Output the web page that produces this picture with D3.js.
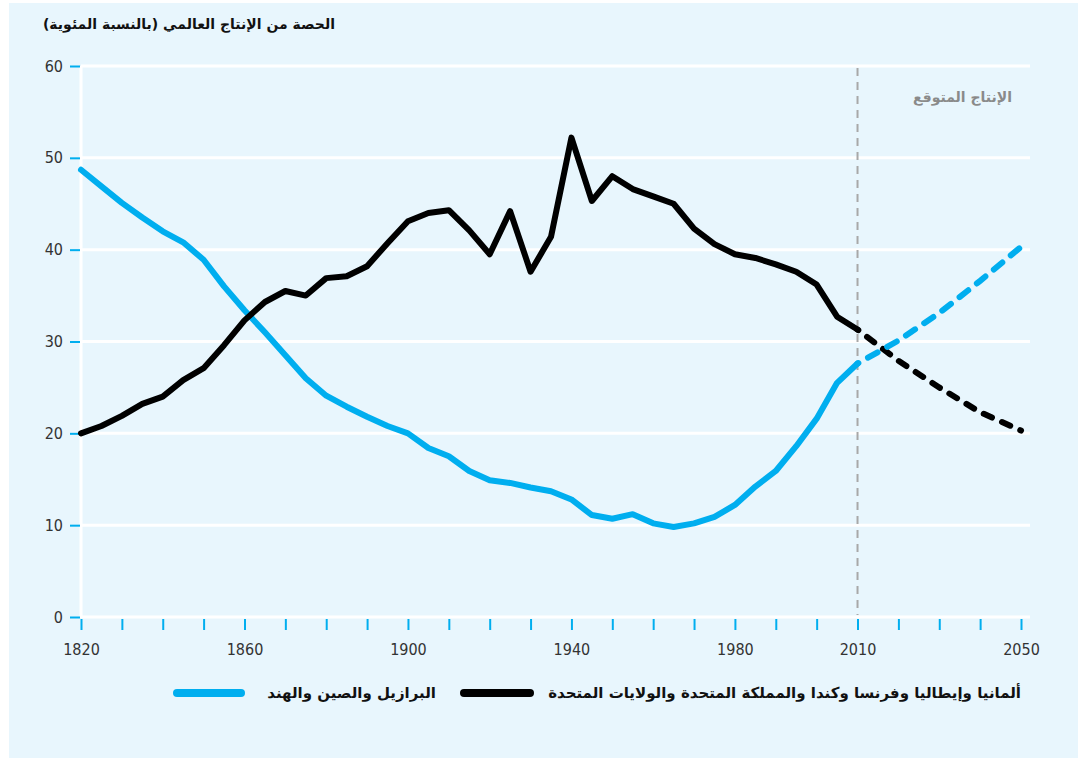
<!DOCTYPE html>
<html>
<head>
<meta charset="utf-8">
<script src="https://cdn.jsdelivr.net/npm/d3@7"></script>
<style>
  body { margin: 0; background: #fff; }
  svg { display: block; }
  .tick-label { font-family: "Liberation Sans Narrow", "DejaVu Sans Condensed", "Roboto Condensed", "Roboto", sans-serif; font-size: 16px; fill: #333; }
  .ar { font-family: "DejaVu Sans", sans-serif; direction: rtl; unicode-bidi: embed; }
</style>
</head>
<body>
<div id="chart"></div>
<script>
// years of the historical series (every 5 years)
var years = [1820, 1825, 1830, 1835, 1840, 1845, 1850, 1855, 1860, 1865, 1870, 1875, 1880,
             1885, 1890, 1895, 1900, 1905, 1910, 1915, 1920, 1925, 1930, 1935, 1940, 1945,
             1950, 1955, 1960, 1965, 1970, 1975, 1980, 1985, 1990, 1995, 2000, 2005, 2010];

// Brazil, China, India (blue)
var bci = [48.7, 46.9, 45.1, 43.5, 42.0, 40.8, 38.9, 36.0, 33.4, 31.0, 28.5, 26.0, 24.1,
           22.9, 21.8, 20.8, 20.0, 18.4, 17.5, 15.9, 14.9, 14.6, 14.1, 13.7, 12.8, 11.1,
           10.7, 11.2, 10.2, 9.8, 10.2, 10.9, 12.2, 14.2, 15.9, 18.6, 21.6, 25.5, 27.6];

// Germany, Italy, France, Canada, UK, US (black)
var g6 = [20.0, 20.8, 21.9, 23.2, 24.0, 25.8, 27.1, 29.6, 32.3, 34.3, 35.5, 35.0, 36.9,
          37.1, 38.2, 40.7, 43.1, 44.0, 44.3, 42.1, 39.5, 44.2, 37.6, 41.4, 52.2, 45.3,
          48.0, 46.6, 45.8, 45.0, 42.3, 40.6, 39.5, 39.1, 38.4, 37.6, 36.2, 32.7, 31.3];

// projections
var projYears = [2010, 2020, 2030, 2040, 2050];
var bciProj = [27.6, 30.1, 33.1, 36.6, 40.3];
var g6Proj = [31.3, 27.9, 25.0, 22.3, 20.3];

var yTicks = [0, 10, 20, 30, 40, 50, 60];
var xTickYears = [1820, 1830, 1840, 1850, 1860, 1870, 1880, 1890, 1900, 1910, 1920, 1930,
                  1940, 1950, 1960, 1970, 1980, 1990, 2000, 2010, 2020, 2030, 2040, 2050];
var xLabels = [1820, 1860, 1900, 1940, 1980, 2010, 2050];

var titleText = "الحصة من الإنتاج العالمي (بالنسبة المئوية)";
var projText = "الإنتاج المتوقع";
var legendBci = "البرازيل والصين والهند";
var legendG6 = "ألمانيا وإيطاليا وفرنسا وكندا والمملكة المتحدة والولايات المتحدة";

var blue = "#00aeef";
var W = 1084, H = 758;

var svg = d3.select("#chart").append("svg")
    .attr("width", W)
    .attr("height", H);

// panel
svg.append("rect")
    .attr("x", 9).attr("y", 3)
    .attr("width", 1069).attr("height", 755)
    .attr("fill", "#e8f6fd");

var x = d3.scaleLinear().domain([1820, 2050]).range([81, 1021]);
var y = d3.scaleLinear().domain([0, 60]).range([617, 66]);

// gridlines
svg.append("g").selectAll("line")
    .data(yTicks)
    .enter().append("line")
    .attr("x1", x(1820)).attr("x2", 1030)
    .attr("y1", function (d) { return y(d); })
    .attr("y2", function (d) { return y(d); })
    .attr("stroke", "#fff")
    .attr("stroke-width", 3);

// white vertical axis line
svg.append("line")
    .attr("x1", x(1820)).attr("x2", x(1820))
    .attr("y1", y(60)).attr("y2", y(0) + 1)
    .attr("stroke", "#fff").attr("stroke-width", 3);

// y axis ticks + labels
var yAxis = d3.axisLeft(y).tickValues(yTicks).tickSize(10).tickPadding(7);
var gy = svg.append("g")
    .attr("transform", "translate(" + (x(1820) - 1) + ",0)")
    .call(yAxis);
gy.select(".domain").remove();
gy.selectAll(".tick line").attr("stroke", blue).attr("stroke-width", 2);
gy.selectAll(".tick text").attr("class", "tick-label").attr("font-size", null).attr("font-family", null);

// x axis ticks + labels
var xAxis = d3.axisBottom(x).tickValues(xTickYears).tickSize(11).tickPadding(14)
    .tickFormat(function (d) { return xLabels.indexOf(d) >= 0 ? d : ""; });
var gx = svg.append("g")
    .attr("transform", "translate(0," + (y(0) + 2) + ")")
    .call(xAxis);
gx.select(".domain").remove();
gx.selectAll(".tick line").attr("stroke", blue).attr("stroke-width", 2);
gx.selectAll(".tick text").attr("class", "tick-label").attr("font-size", null).attr("font-family", null);

// 2010 projection divider
svg.append("line")
    .attr("x1", x(2010)).attr("x2", x(2010))
    .attr("y1", y(60) + 2).attr("y2", y(0) - 2)
    .attr("stroke", "#a8a8a8")
    .attr("stroke-width", 2)
    .attr("stroke-dasharray", "8,6");

svg.append("text")
    .attr("class", "ar")
    .attr("x", 1012).attr("y", 102)
    .attr("text-anchor", "start")
    .attr("font-size", 14)
    .attr("font-weight", "bold")
    .attr("fill", "#8a8a8a")
    .text(projText);

var line = d3.line()
    .x(function (d) { return x(d[0]); })
    .y(function (d) { return y(d[1]); });

function pairs(xs, ys) {
    return xs.map(function (v, i) { return [v, ys[i]]; });
}

// projections (dashed)
svg.append("path")
    .attr("d", line(pairs(projYears, g6Proj)))
    .attr("fill", "none").attr("stroke", "#000")
    .attr("stroke-width", 6).attr("stroke-linecap", "round")
    .attr("stroke-dasharray", "9,11").attr("stroke-dashoffset", -12);

svg.append("path")
    .attr("d", line(pairs(projYears, bciProj)))
    .attr("fill", "none").attr("stroke", blue)
    .attr("stroke-width", 6).attr("stroke-linecap", "round")
    .attr("stroke-dasharray", "11,11").attr("stroke-dashoffset", -12);

// historical series
svg.append("path")
    .attr("d", line(pairs(years, bci)))
    .attr("fill", "none").attr("stroke", blue)
    .attr("stroke-width", 6).attr("stroke-linecap", "round").attr("stroke-linejoin", "round");

svg.append("path")
    .attr("d", line(pairs(years, g6)))
    .attr("fill", "none").attr("stroke", "#000")
    .attr("stroke-width", 6).attr("stroke-linecap", "round").attr("stroke-linejoin", "round");

// title
svg.append("text")
    .attr("class", "ar")
    .attr("x", 335).attr("y", 29)
    .attr("text-anchor", "start")
    .attr("font-size", 14)
    .attr("font-weight", "bold")
    .attr("fill", "#111")
    .text(titleText);

// legend
var legend = svg.append("g");
legend.append("line")
    .attr("x1", 177).attr("x2", 241).attr("y1", 693).attr("y2", 693)
    .attr("stroke", blue).attr("stroke-width", 8).attr("stroke-linecap", "round");
legend.append("text")
    .attr("class", "ar")
    .attr("x", 436).attr("y", 698)
    .attr("text-anchor", "start")
    .attr("font-size", 15).attr("font-weight", "bold").attr("fill", "#111")
    .text(legendBci);
legend.append("line")
    .attr("x1", 464).attr("x2", 530).attr("y1", 693).attr("y2", 693)
    .attr("stroke", "#000").attr("stroke-width", 8).attr("stroke-linecap", "round");
legend.append("text")
    .attr("class", "ar")
    .attr("x", 1021).attr("y", 698)
    .attr("text-anchor", "start")
    .attr("font-size", 15).attr("font-weight", "bold").attr("fill", "#111")
    .text(legendG6);
</script>
</body>
</html>
